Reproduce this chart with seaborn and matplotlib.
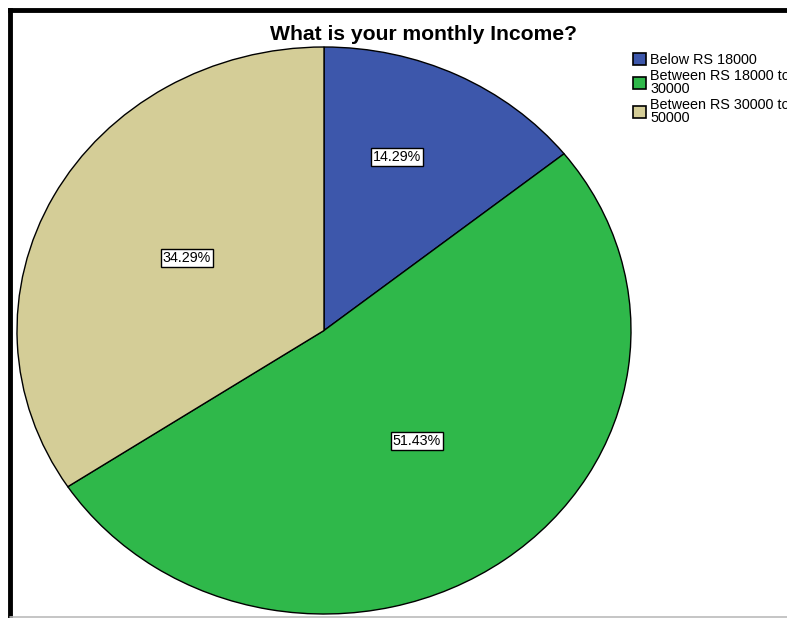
import matplotlib
matplotlib.use("Agg")
import matplotlib.pyplot as plt
from matplotlib.patches import Patch
from matplotlib.lines import Line2D
import seaborn as sns

categories = ["Below RS 18000", "Between RS 18000 to\n30000", "Between RS 30000 to\n50000"]
percentages = [14.29, 51.43, 34.29]
slice_colors = ["#3d57ab", "#2fb84a", "#d4cd97"]
title = "What is your monthly Income?"

sns.set_theme(style="white")
plt.rcParams["font.family"] = ["Liberation Sans", "DejaVu Sans"]
plt.rcParams["text.color"] = "black"

W, H = 787, 618
fig = plt.figure(figsize=(W / 100, H / 100), dpi=100)
fig.patch.set_facecolor("white")

# pie area (ellipse) in pixels: x 17..631, y 47..614
x0, x1, y0, y1 = 17, 631, 47, 614
ax = fig.add_axes([x0 / W, 1 - y1 / H, (x1 - x0) / W, (y1 - y0) / H])
wedges, _ = ax.pie(percentages, colors=slice_colors, startangle=90, counterclock=False,
                   radius=1.0, wedgeprops=dict(edgecolor="black", linewidth=1.0))
ax.set_aspect("auto")
ax.set_xlim(-1, 1)
ax.set_ylim(-1, 1)
ax.axis("off")

# percentage labels (pixel positions converted to data coords)
label_px = [(397, 157), (417, 441), (187, 258)]
cx, cy = (x0 + x1) / 2, (y0 + y1) / 2
rx, ry = (x1 - x0) / 2, (y1 - y0) / 2
for p, (px, py) in zip(percentages, label_px):
    ax.text((px - cx) / rx, (cy - py) / ry, f"{p:.2f}%", ha="center", va="center",
            fontsize=10.3, color="black",
            bbox=dict(boxstyle="square,pad=0.15", facecolor="white", edgecolor="black", linewidth=1.0))

fig.text(424 / W, 1 - 35 / H, title, ha="center", va="center", fontsize=15.2,
         fontweight="bold", color="black")

handles = [Patch(facecolor=c, edgecolor="black", linewidth=1.2) for c in slice_colors]
leg = fig.legend(handles, categories, loc="upper left", bbox_to_anchor=(623 / W, 1 - 43 / H),
                 frameon=False, fontsize=10.4, handlelength=0.9, handleheight=0.9,
                 handletextpad=0.3, labelspacing=0.15, borderpad=0.2)
for t in leg.get_texts():
    t.set_linespacing(0.9)
    t.set_color("black")

# frame lines
fig.add_artist(Line2D([10 / W, 10 / W], [0, 1 - 10 / H], color="black", linewidth=3.5,
                      solid_capstyle="projecting", transform=fig.transFigure))
fig.add_artist(Line2D([10 / W, 1.0], [1 - 10 / H, 1 - 10 / H], color="black", linewidth=3.5,
                      solid_capstyle="projecting", transform=fig.transFigure))
fig.add_artist(Line2D([10 / W, 1.0], [1 - 616.5 / H, 1 - 616.5 / H], color="#bbbbbb", linewidth=1.2,
                      transform=fig.transFigure))

fig.savefig("out.png", dpi=100)
